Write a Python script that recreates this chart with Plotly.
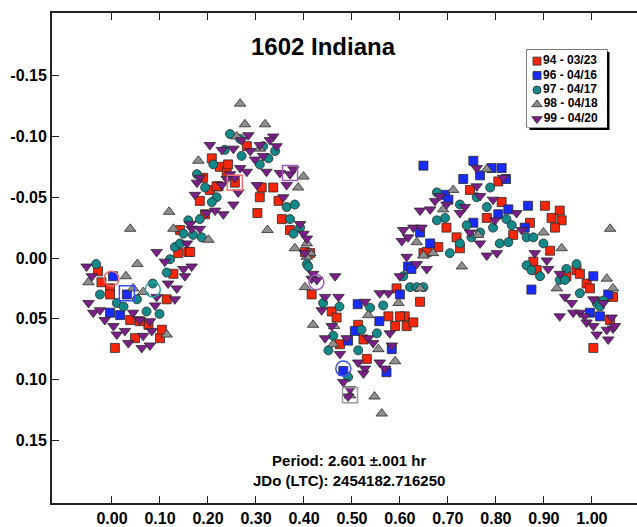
import plotly.graph_objects as go

# ---------------- data (phase, delta-mag) ----------------
series_names = ["94 - 03/23", "96 - 04/16", "97 - 04/17", "98 - 04/18", "99 - 04/20"]

red_phase = [-0.029, -0.022, -0.004, 0.006, 0.038, 0.048, 0.100, 0.104, 0.114, 0.159, 0.138, 0.142, 0.194, 0.183,
             0.128, 0.076, 0.058, -0.004, 0.208, 0.225, 0.239, 0.190, 0.222, 0.204, 0.308, 0.303, 0.347, 0.354,
             0.371, 0.336, 0.281, 0.256, 0.163, 0.402, 0.242, 0.312, 0.218, 0.416, 0.458, 0.468, 0.475, 0.524,
             0.531, 0.576, 0.593, 0.610, 0.614, 0.628, 0.642, 0.513, 0.649, 0.590, 0.902, 0.933, 0.916, 0.937,
             0.923, 0.871, 0.812, 0.746, 0.805, 0.718, 0.725, 0.680, 0.697, 0.781, 0.913, 0.878, 0.885, 0.968,
             0.975, 0.989, 0.996, 1.044, 1.038, 0.947, 0.600, 0.836, 1.003, 1.017, 0.413, 0.656]
red_mag = [0.011, 0.020, 0.025, 0.074, 0.051, 0.066, 0.066, 0.059, 0.034, -0.005, -0.004, -0.023, -0.036, -0.047,
           0.013, 0.055, 0.052, 0.030, -0.082, -0.075, -0.071, -0.066, -0.059, -0.056, -0.050, -0.037, -0.047, -0.032,
           -0.023, -0.058, -0.092, -0.062, -0.005, -0.005, -0.077, -0.058, -0.059, 0.030, 0.044, 0.049, 0.071, 0.067,
           0.083, 0.048, 0.025, 0.048, 0.056, 0.053, 0.036, 0.055, -0.004, 0.056, -0.043, -0.039, -0.033, -0.031,
           -0.025, -0.029, -0.046, -0.056, -0.063, -0.017, -0.008, -0.009, -0.025, -0.033, -0.006, 0.003, 0.010, 0.010,
           0.013, 0.021, 0.025, 0.032, 0.051, 0.015, 0.048, -0.019, 0.074, 0.036, -0.004, -0.005]

blue_phase = [0.002, 0.031, -0.004, 0.017, 0.512, 0.506, 0.557, 0.572, 0.583, 0.492, 0.482, 0.600, 0.617, 0.642,
              0.649, 0.753, 0.791, 0.812, 0.732, 0.767, 0.821, 0.694, 0.701, 0.867, 0.826, 0.663, 0.860, 1.003,
              1.034, 0.874, 0.624, 0.996, 1.017, 0.805, 0.753]
blue_mag = [0.015, 0.030, 0.045, 0.047, 0.038, 0.060, 0.052, 0.094, 0.075, 0.068, 0.093, 0.030, 0.007, -0.021,
            -0.076, -0.080, -0.074, -0.074, -0.065, -0.068, -0.065, -0.052, -0.048, -0.043, -0.040, -0.012, -0.025, 0.015,
            0.030, 0.026, 0.009, 0.045, 0.048, -0.036, -0.029]

teal_phase = [-0.033, -0.025, 0.052, 0.072, 0.099, 0.085, 0.114, 0.121, 0.131, 0.169, 0.187, 0.177, 0.159, 0.142,
              0.010, 0.024, 0.246, 0.267, 0.235, 0.270, 0.211, 0.194, 0.218, 0.208, 0.183, 0.149, 0.364, 0.381,
              0.371, 0.392, 0.378, 0.406, 0.308, 0.340, 0.315, 0.326, 0.409, 0.440, 0.474, 0.451, 0.513, 0.552,
              0.538, 0.565, 0.607, 0.621, 0.635, 0.649, 0.492, 0.520, 0.461, 0.677, 0.704, 0.725, 0.781, 0.760,
              0.788, 0.822, 0.833, 0.808, 0.826, 0.864, 0.878, 0.899, 0.864, 0.874, 0.892, 0.933, 0.968, 0.975,
              1.010, 1.017, 0.725, 0.694, 0.677, 0.739, 0.767, 0.947, 0.794, 0.749, 0.944, 1.024]
teal_mag = [0.005, 0.030, 0.034, 0.044, 0.046, 0.021, 0.012, 0.001, -0.009, -0.019, -0.017, -0.069, -0.031, -0.012,
            0.037, 0.040, -0.102, -0.098, -0.089, -0.084, -0.077, -0.058, -0.050, -0.046, -0.032, -0.020, -0.042, -0.044,
            -0.032, -0.025, -0.020, 0.005, -0.077, -0.088, -0.092, -0.082, 0.007, 0.037, 0.040, 0.076, 0.076, 0.062,
            0.041, 0.039, 0.015, 0.024, 0.024, 0.024, 0.098, 0.059, 0.064, -0.054, -0.004, -0.012, -0.042, -0.050,
            -0.058, -0.032, -0.027, -0.012, -0.013, -0.017, -0.017, -0.012, 0.006, 0.010, 0.015, 0.018, 0.005, 0.029,
            0.037, 0.040, -0.044, -0.033, -0.031, -0.027, -0.021, 0.009, -0.025, -0.017, 0.018, 0.035]

gray_phase = [0.119, 0.038, 0.053, 0.029, 0.201, 0.044, 0.065, -0.049, 0.114, 0.128, 0.267, 0.277, 0.319, 0.180,
              0.324, 0.399, 0.388, 0.381, 0.406, 0.260, 0.308, 0.402, 0.419, 0.463, 0.461, 0.496, 0.547, 0.562,
              0.590, 0.635, 0.534, 0.555, 0.597, 0.413, 0.711, 1.038, 0.937, 0.729, 0.649, 0.669, 0.899, 1.031,
              1.044, 0.927, 0.781, 0.690, 0.763, 0.642, 0.406]
gray_mag = [-0.038, -0.024, 0.005, 0.015, -0.015, 0.025, 0.028, 0.020, 0.063, -0.024, -0.127, -0.110, -0.110, -0.080,
            -0.023, -0.067, -0.058, -0.008, -0.012, -0.100, -0.090, 0.024, 0.055, 0.056, 0.071, 0.113, 0.114, 0.128,
            0.085, -0.013, 0.047, 0.075, 0.037, -0.004, -0.056, -0.024, -0.008, 0.007, -0.002, -0.004, -0.021, 0.017,
            0.025, 0.025, -0.073, -0.040, -0.019, 0.025, -0.001]

purple_phase = [-0.053, -0.042, -0.049, -0.039, -0.025, -0.015, 0.003, 0.010, 0.027, 0.034, 0.062, 0.079, 0.065, 0.083,
                0.093, 0.093, 0.110, 0.117, 0.135, 0.131, 0.149, 0.166, 0.152, 0.166, 0.183, 0.173, 0.215, 0.044,
                0.058, 0.079, 0.090, 0.204, 0.229, 0.284, 0.336, 0.343, 0.329, 0.288, 0.298, 0.267, 0.246, 0.256,
                0.263, 0.253, 0.229, 0.232, 0.364, 0.371, 0.322, 0.350, 0.357, 0.399, 0.406, 0.402, 0.419, 0.416,
                0.163, 0.156, 0.302, 0.281, 0.270, 0.308, 0.253, 0.315, 0.378, 0.183, 0.177, 0.239, 0.197, 0.465,
                0.427, 0.444, 0.472, 0.437, 0.458, 0.444, 0.475, 0.489, 0.534, 0.544, 0.513, 0.527, 0.496, 0.492,
                0.482, 0.558, 0.569, 0.583, 0.600, 0.614, 0.604, 0.558, 0.579, 0.527, 0.607, 0.524, 0.642, 0.663,
                0.673, 0.628, 0.645, 0.617, 0.635, 0.656, 0.576, 0.683, 0.697, 0.725, 0.735, 0.760, 0.767, 0.794,
                0.798, 0.767, 0.781, 0.802, 0.746, 0.843, 0.854, 0.881, 0.906, 0.909, 0.933, 0.944, 0.958, 0.933,
                0.975, 0.989, 1.031, 1.044, 1.003, 1.024, 0.760, 0.815, 0.961, 0.985, 1.003, 1.010, 1.034, 1.048,
                1.041, 0.392]
purple_mag = [0.007, 0.015, 0.037, 0.045, 0.043, 0.051, 0.056, 0.063, 0.060, 0.070, 0.074, 0.072, 0.064, 0.060,
              0.032, -0.005, 0.003, 0.021, 0.025, 0.034, 0.009, 0.007, 0.015, -0.024, -0.024, -0.052, -0.039, 0.045,
              0.051, 0.052, 0.039, -0.093, -0.089, -0.101, -0.100, -0.092, -0.097, -0.088, -0.081, -0.074, -0.069, -0.066,
              -0.054, -0.044, -0.060, -0.036, -0.060, -0.069, -0.071, -0.070, -0.050, -0.020, -0.016, -0.004, 0.013, 0.017,
              -0.028, -0.012, -0.060, -0.071, -0.097, -0.093, -0.090, -0.084, -0.073, -0.066, -0.062, -0.065, -0.037, 0.015,
              0.018, 0.032, 0.032, 0.043, 0.056, 0.066, 0.079, 0.066, 0.066, 0.070, 0.086, 0.091, 0.108, 0.114,
              0.102, 0.086, 0.091, 0.072, 0.015, -0.001, -0.014, 0.029, 0.062, 0.036, -0.023, 0.095, -0.039, -0.040,
              -0.047, -0.025, -0.025, -0.017, 0.005, 0.009, 0.029, -0.051, -0.044, -0.037, -0.042, -0.059, -0.051, -0.048,
              -0.031, -0.012, -0.002, -0.004, -0.021, -0.037, -0.023, -0.004, 0.002, 0.009, 0.013, 0.032, 0.037, 0.048,
              0.045, 0.053, 0.059, 0.058, 0.034, 0.037, -0.074, -0.066, 0.045, 0.048, 0.056, 0.063, 0.067, 0.056,
              0.049, -0.028]

# highlighted (open) markers, per series
open_square_phase = {"red": [0.256], "blue": [0.031], "gray": [0.496], "purple": [0.371]}
open_square_mag = {"red": [-0.062], "blue": [0.029], "gray": [0.113], "purple": [-0.070]}
open_circle_phase = {"red": [-0.001], "blue": [0.482], "teal": [0.085], "purple": [0.426]}
open_circle_mag = {"red": [0.017], "blue": [0.091], "teal": [0.026], "purple": [0.020]}

x_tick_vals = [0.0, 0.1, 0.2, 0.3, 0.4, 0.5, 0.6, 0.7, 0.8, 0.9, 1.0]
x_tick_text = ["0.00", "0.10", "0.20", "0.30", "0.40", "0.50", "0.60", "0.70", "0.80", "0.90", "1.00"]
y_tick_vals = [-0.15, -0.10, -0.05, 0.0, 0.05, 0.10, 0.15]
y_tick_text = ["-0.15", "-0.10", "-0.05", "0.00", "0.05", "0.10", "0.15"]

# ---------------- styles ----------------
COL = {"red": "#f5260a", "blue": "#1a2bff", "teal": "#13898a", "gray": "#8e8e8e", "purple": "#7a1f88"}
OPEN_COL = {"red": "#f07070", "blue": "#3a4cff", "teal": "#2aa0a0", "gray": "#9a9a9a", "purple": "#a05ab8"}
FONT = "Liberation Sans, Arial, sans-serif"

fig = go.Figure()

series = [
    (red_phase, red_mag, "red", "square", 9),
    (blue_phase, blue_mag, "blue", "square", 9),
    (teal_phase, teal_mag, "teal", "circle", 9),
    (gray_phase, gray_mag, "gray", "triangle-up", 10),
    (purple_phase, purple_mag, "purple", "triangle-down", 10),
]
for (xs, ys, c, sym, sz), name in zip(series, series_names):
    fig.add_trace(go.Scatter(
        x=xs, y=ys, mode="markers", name=name, showlegend=False,
        marker=dict(symbol=sym, size=sz, color=COL[c], line=dict(color="#2a2a2a", width=0.8)),
    ))

for c in open_square_phase:
    fig.add_trace(go.Scatter(x=open_square_phase[c], y=open_square_mag[c], mode="markers", showlegend=False,
                             marker=dict(symbol="square-open", size=15, color=OPEN_COL[c], line=dict(width=1.5))))
for c in open_circle_phase:
    fig.add_trace(go.Scatter(x=open_circle_phase[c], y=open_circle_mag[c], mode="markers", showlegend=False,
                             marker=dict(symbol="circle-open", size=15, color=OPEN_COL[c], line=dict(width=1.5))))

# ---------------- custom legend (own small axes) ----------------
W, H = 637, 527
ML, MR, MT, MB = 52, 0, 13, 18
pw, ph = W - ML - MR, H - MT - MB
def px_x(p):
    return (p - ML) / pw
def px_y(p):
    return (H - MB - p) / ph

leg_l, leg_r, leg_t, leg_b = 527, 607, 50, 129
fig.add_shape(type="rect", xref="paper", yref="paper", layer="below",
              x0=px_x(leg_l + 2.5), x1=px_x(leg_r + 2.5), y0=px_y(leg_b + 2.5), y1=px_y(leg_t + 2.5),
              fillcolor="black", line=dict(width=0))
fig.add_shape(type="rect", xref="paper", yref="paper", layer="below",
              x0=px_x(leg_l), x1=px_x(leg_r), y0=px_y(leg_b), y1=px_y(leg_t),
              fillcolor="white", line=dict(color="black", width=1))

leg_syms = [("red", "square", 8), ("blue", "square", 8), ("teal", "circle", 8),
            ("gray", "triangle-up", 9), ("purple", "triangle-down", 9)]
for i, ((c, sym, sz), name) in enumerate(zip(leg_syms, series_names)):
    fig.add_trace(go.Scatter(
        x=[0.125], y=[i + 1], xaxis="x2", yaxis="y2", mode="markers+text", showlegend=False,
        text=[name], textposition="middle right",
        textfont=dict(family=FONT, size=12, color="black", weight="bold"),
        marker=dict(symbol=sym, size=sz, color=COL[c], line=dict(color="#2a2a2a", width=0.8)),
        hoverinfo="skip", cliponaxis=False,
    ))

axis_font = dict(family=FONT, size=16, color="black", weight="bold")
fig.update_layout(
    width=W, height=H,
    margin=dict(l=ML, r=MR, t=MT, b=MB, pad=0),
    paper_bgcolor="white", plot_bgcolor="white",
    showlegend=False,
    title=dict(text="1602 Indiana", x=323 / W, xanchor="center", y=1 - 47 / H, yanchor="middle",
               font=dict(family=FONT, size=24, color="black", weight="bold")),
    xaxis=dict(range=[-0.125, 1.094], tickvals=x_tick_vals, ticktext=x_tick_text,
               ticks="inside", ticklen=7, tickwidth=1.3, tickcolor="#222",
               showline=True, linewidth=2, linecolor="#222", mirror="ticks",
               showgrid=False, zeroline=False, tickfont=axis_font),
    yaxis=dict(range=[0.2016, -0.2016], tickvals=y_tick_vals, ticktext=y_tick_text,
               ticks="inside", ticklen=7, tickwidth=1.3, tickcolor="#222",
               showline=True, linewidth=2, linecolor="#222", mirror=False,
               showgrid=False, zeroline=False, tickfont=axis_font),
    xaxis2=dict(domain=[px_x(leg_l), px_x(leg_r)], range=[0, 1], visible=False, anchor="y2"),
    yaxis2=dict(domain=[px_y(leg_b), px_y(leg_t)], range=[5.6, 0.2], visible=False, anchor="x2"),
    annotations=[dict(
        text="Period: 2.601 ±.001 hr<br>JDo (LTC): 2454182.716250",
        xref="paper", yref="paper", x=px_x(349), y=px_y(476), xanchor="center", yanchor="middle",
        showarrow=False, align="center",
        font=dict(family=FONT, size=15, color="black", weight="bold"),
    )],
)

fig.write_html("out.html")
